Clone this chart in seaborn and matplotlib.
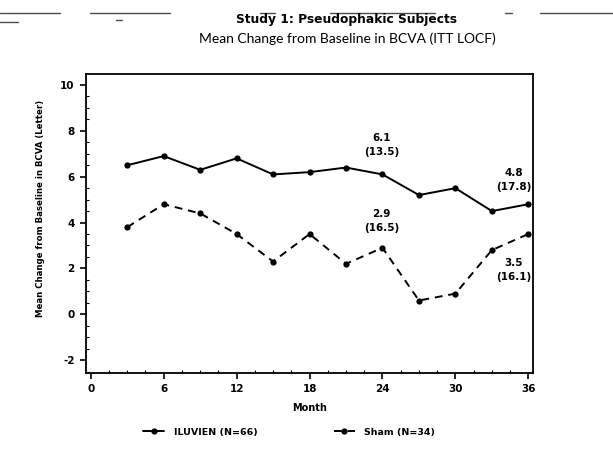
import matplotlib
matplotlib.use("Agg")
import matplotlib.pyplot as plt
from matplotlib.lines import Line2D
from matplotlib.ticker import MultipleLocator
import seaborn as sns
import pandas as pd

months = [3, 6, 9, 12, 15, 18, 21, 24, 27, 30, 33, 36]
iluvien = [6.5, 6.9, 6.3, 6.8, 6.1, 6.2, 6.4, 6.1, 5.2, 5.5, 4.5, 4.8]
sham = [3.8, 4.8, 4.4, 3.5, 2.3, 3.5, 2.2, 2.9, 0.6, 0.9, 2.8, 3.5]
series_names = ["ILUVIEN (N=66)", "Sham (N=34)"]
annotations = [(23.9, 7.4, "6.1\n(13.5)"), (23.9, 4.06, "2.9\n(16.5)"),
               (34.8, 5.85, "4.8\n(17.8)"), (34.8, 1.92, "3.5\n(16.1)")]
xticks = [0, 6, 12, 18, 24, 30, 36]
yticks = [-2, 0, 2, 4, 6, 8, 10]

df = pd.DataFrame({
    "Month": months * 2,
    "value": iluvien + sham,
    "group": [series_names[0]] * len(months) + [series_names[1]] * len(months),
})

sns.set_style("white")
plt.rcParams["font.family"] = ["DejaVu Sans"]
plt.rcParams["text.color"] = "black"
plt.rcParams["axes.labelcolor"] = "black"
plt.rcParams["xtick.color"] = "black"
plt.rcParams["ytick.color"] = "black"
plt.rcParams["axes.unicode_minus"] = False

fig = plt.figure(figsize=(6.13, 4.54), dpi=100)
ax = fig.add_axes([0.140, 0.178, 0.730, 0.659])

sns.lineplot(data=df, x="Month", y="value", hue="group", style="group",
             palette=["black", "black"], dashes=[(None, None), (4, 3)],
             markers=["o", "o"], markersize=4.5, markeredgewidth=0,
             linewidth=1.4, ax=ax, legend=False)

ax.set_xlim(-0.41, 36.41)
ax.set_ylim(-2.57, 10.48)
ax.set_xticks(xticks)
ax.set_yticks(yticks)
ax.xaxis.set_minor_locator(MultipleLocator(1.5))
ax.yaxis.set_minor_locator(MultipleLocator(0.5))
ax.tick_params(axis="both", which="major", direction="out", length=4, width=1.2,
               labelsize=7.5, pad=4, colors="black")
ax.tick_params(axis="both", which="minor", direction="in", length=2, width=0.8)
ax.tick_params(axis="y", which="both", left=True)
ax.tick_params(axis="x", which="both", bottom=True)
for lab in ax.get_xticklabels() + ax.get_yticklabels():
    lab.set_fontweight("bold")
for s in ax.spines.values():
    s.set_visible(True)
    s.set_color("black")
    s.set_linewidth(1.3)

ax.set_xlabel("Month", fontsize=7, fontweight="bold", labelpad=6)
ax.set_ylabel("Mean Change from Baseline in BCVA (Letter)", fontsize=6.2,
              fontweight="bold")
ax.yaxis.set_label_coords(-0.092, 0.552)

for x, y, t in annotations:
    ax.text(x, y, t, ha="center", va="center", fontsize=7.5, fontweight="bold",
            linespacing=1.5)

fig.text(0.566, 0.958, "Study 1: Pseudophakic Subjects", ha="center", va="center",
         fontsize=8.8, fontweight="bold")
fig.text(0.566, 0.915, "Mean Change from Baseline in BCVA (ITT LOCF)", ha="center",
         va="center", fontsize=10, family=["Lato", "DejaVu Sans"])

handles = [Line2D([], [], color="black", lw=1.4, marker="o", markersize=4.5,
                  markeredgewidth=0),
           Line2D([], [], color="black", lw=1.4, ls=(0, (4, 3)), marker="o",
                  markersize=4.5, markeredgewidth=0)]
fig.legend(handles, series_names, loc="center", bbox_to_anchor=(0.472, 0.048),
           ncol=2, frameon=False, prop={"size": 6.8, "weight": "bold"},
           handlelength=2.2, columnspacing=8.1, handletextpad=1.0)

# scan artifacts at the top
for x0, x1, y in [(0, 60, 13), (90, 170, 13), (260, 275, 13), (330, 435, 13),
                  (505, 512, 13), (540, 613, 13), (0, 18, 22), (116, 122, 20)]:
    fig.add_artist(Line2D([x0 / 613, x1 / 613], [1 - y / 454, 1 - y / 454],
                          color="black", lw=1.0, alpha=0.7))

fig.savefig("out.png", dpi=100)
